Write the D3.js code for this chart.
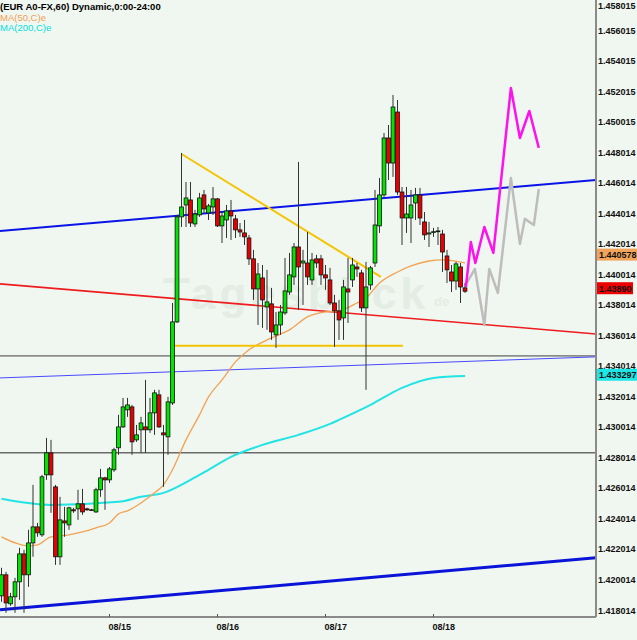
<!DOCTYPE html>
<html>
<head>
<meta charset="utf-8">
<script src="https://cdn.jsdelivr.net/npm/d3@7"></script>
<style>
  body { margin: 0; background: #f0f6f0; }
  svg { display: block; font-family: 'Liberation Sans', Arial, sans-serif; }
  .axis-label { font-size: 9px; font-weight: bold; fill: #111; }
</style>
</head>
<body>
<svg id="chart" width="637" height="640"></svg>
<script>
// hourly EUR/USD bars, index 0 = first bar at the left edge
const opens = [
  1.41894, 1.42032, 1.41842, 1.41888, 1.41986, 1.42169, 1.42032, 1.42241, 1.42346, 1.42294,
  1.42687, 1.42831, 1.42608, 1.42150, 1.42385, 1.42359, 1.42458, 1.42464, 1.42497, 1.42464,
  1.42458, 1.42444, 1.42589, 1.42667, 1.42654, 1.42720, 1.42864, 1.43001, 1.43113, 1.43132,
  1.42916, 1.42982, 1.43001, 1.42982, 1.43093, 1.43211, 1.42962, 1.42936, 1.43158, 1.43689,
  1.44377, 1.44455, 1.44488, 1.44331, 1.44390, 1.44521, 1.44403, 1.44442, 1.44495, 1.44318,
  1.44357, 1.44416, 1.44364, 1.44292, 1.44272, 1.44239, 1.44102, 1.43905, 1.43977, 1.43787,
  1.43807, 1.43604, 1.43669, 1.43748, 1.43885, 1.43984, 1.44180, 1.44075, 1.44075, 1.43964,
  1.44102, 1.44102, 1.43997, 1.43964, 1.43813, 1.43761, 1.43715, 1.43905, 1.43964, 1.44049,
  1.44010, 1.43781, 1.43931, 1.44075, 1.44318, 1.44521, 1.44894, 1.44730, 1.45064, 1.44540,
  1.44370, 1.44370, 1.44468, 1.44521, 1.44344, 1.44265, 1.44278, 1.44285, 1.44265, 1.44121,
  1.44016, 1.43957, 1.44049, 1.43912
];
const highs = [
  1.42078, 1.42051, 1.41914, 1.42012, 1.42209, 1.42196, 1.42327, 1.42621, 1.42372, 1.42687,
  1.42929, 1.42916, 1.42621, 1.42543, 1.42477, 1.42477, 1.42471, 1.42589, 1.42595, 1.42471,
  1.42464, 1.42602, 1.42726, 1.42674, 1.42739, 1.42864, 1.43080, 1.43191, 1.43191, 1.43145,
  1.43014, 1.43067, 1.43309, 1.43191, 1.43244, 1.43244, 1.43014, 1.43198, 1.43813, 1.44390,
  1.44796, 1.44606, 1.44606, 1.44423, 1.44534, 1.44554, 1.44462, 1.44573, 1.44501, 1.44409,
  1.44455, 1.44488, 1.44390, 1.44337, 1.44357, 1.44259, 1.44161, 1.44075, 1.44062, 1.44030,
  1.43912, 1.43754, 1.43800, 1.44108, 1.44141, 1.44206, 1.44737, 1.44161, 1.44278, 1.44141,
  1.44128, 1.44128, 1.44062, 1.44043, 1.43866, 1.43833, 1.43964, 1.44108, 1.44108, 1.44075,
  1.44030, 1.44082, 1.44056, 1.44554, 1.44632, 1.44927, 1.44979, 1.45176, 1.45143, 1.44573,
  1.44573, 1.44554, 1.44567, 1.44567, 1.44409, 1.44344, 1.44305, 1.44311, 1.44292, 1.44161,
  1.44062, 1.44082, 1.44075, 1.43944
];
const lows = [
  1.41855, 1.41783, 1.41829, 1.41783, 1.41868, 1.41783, 1.41953, 1.42150, 1.42281, 1.42281,
  1.42654, 1.42438, 1.42097, 1.42097, 1.42281, 1.42327, 1.42438, 1.42392, 1.42425, 1.42451,
  1.42451, 1.42438, 1.42543, 1.42458, 1.42634, 1.42706, 1.42818, 1.42995, 1.43067, 1.42818,
  1.42903, 1.42831, 1.42831, 1.42962, 1.42949, 1.42995, 1.42608, 1.42818, 1.43145, 1.43682,
  1.44311, 1.44311, 1.44311, 1.44311, 1.44377, 1.44403, 1.44357, 1.44390, 1.44311, 1.44206,
  1.44239, 1.44226, 1.44239, 1.44246, 1.44193, 1.44062, 1.43833, 1.43669, 1.43650, 1.43637,
  1.43571, 1.43519, 1.43604, 1.43735, 1.43866, 1.43931, 1.43768, 1.43800, 1.43931, 1.43931,
  1.44043, 1.43931, 1.43899, 1.43800, 1.43525, 1.43571, 1.43571, 1.43682, 1.43918, 1.43984,
  1.43754, 1.43244, 1.43899, 1.44049, 1.44272, 1.44508, 1.44619, 1.44639, 1.44521, 1.44193,
  1.44272, 1.44206, 1.44357, 1.44324, 1.44226, 1.44180, 1.44246, 1.44193, 1.44016, 1.43944,
  1.43885, 1.43899, 1.43813, 1.43879
];
const closes = [
  1.42032, 1.41848, 1.41888, 1.41986, 1.42169, 1.42032, 1.42241, 1.42346, 1.42307, 1.42674,
  1.42831, 1.42687, 1.42150, 1.42392, 1.42372, 1.42471, 1.42451, 1.42497, 1.42444, 1.42458,
  1.42455, 1.42589, 1.42667, 1.42654, 1.42726, 1.42851, 1.43001, 1.43132, 1.43145, 1.42903,
  1.42949, 1.43027, 1.42982, 1.43093, 1.43224, 1.43001, 1.42949, 1.43165, 1.43689, 1.44377,
  1.44442, 1.44501, 1.44337, 1.44396, 1.44501, 1.44429, 1.44449, 1.44495, 1.44318, 1.44383,
  1.44416, 1.44383, 1.44292, 1.44278, 1.44246, 1.44102, 1.43905, 1.44003, 1.43833, 1.43820,
  1.43623, 1.43669, 1.43754, 1.43892, 1.43997, 1.44180, 1.44049, 1.44088, 1.43984, 1.44095,
  1.44075, 1.43997, 1.43977, 1.43813, 1.43761, 1.43702, 1.43918, 1.43885, 1.44062, 1.44036,
  1.43781, 1.43918, 1.44043, 1.44324, 1.44521, 1.44894, 1.44730, 1.45097, 1.44540, 1.44370,
  1.44396, 1.44455, 1.44521, 1.44370, 1.44259, 1.44272, 1.44280, 1.44284, 1.44147, 1.44030,
  1.43957, 1.44069, 1.43918, 1.43890
];

const ma50Idx  = [0, 6, 8, 11, 15, 18, 21, 24, 26, 28, 31, 34, 36, 38, 41, 44, 46, 49, 52, 55, 60, 64, 68, 72, 75, 79, 81, 84, 88, 91, 95, 98, 103];
const ma50Vals = [1.42281, 1.42222, 1.42228, 1.42281, 1.42294, 1.42313, 1.42340, 1.42372, 1.42431, 1.42451,
  1.42503, 1.42569, 1.42621, 1.42720, 1.42916, 1.43080, 1.43198, 1.43309, 1.43427, 1.43506,
  1.43584, 1.43637, 1.43722, 1.43754, 1.43761, 1.43813, 1.43846, 1.43944, 1.44016, 1.44056,
  1.44088, 1.44095, 1.44075];
const ma200Idx  = [0, 11, 26, 31, 36, 42, 46, 51, 58, 66, 73, 75, 82, 89, 96, 103];
const ma200Vals = [1.42530, 1.42490, 1.42510, 1.42543, 1.42569, 1.42654, 1.42720, 1.42805, 1.42883, 1.42949,
  1.43021, 1.43047, 1.43145, 1.43257, 1.43322, 1.43335];

// drawn lines: [bar index, price] pairs
const trendBlueUpper = [[-0.33, 1.44285], [132.1, 1.44619]];
const trendRed       = [[-0.33, 1.43938], [132.1, 1.43610]];
const trendBlueThin  = [[-0.33, 1.43322], [132.1, 1.43460]];
const trendBlueLower = [[-0.33, 1.41803], [132.1, 1.42143]];
const triangleTop    = [[40, 1.44789], [84.3, 1.43984]];
const triangleBase   = [[38.3, 1.43532], [89.2, 1.43532]];
const levelDark = 1.43466;
const levelGray = 1.42831;

// forecast paths
const magentaIdx  = [103.2, 104.3, 105.3, 107.3, 109.3, 113.2, 115.2, 117.3, 119.4];
const magentaVals = [1.43918, 1.44213, 1.44075, 1.44311, 1.44141, 1.45222, 1.44894, 1.45071, 1.44829];
const grayIdx  = [103.4, 105.2, 107.3, 108.4, 110.3, 113.2, 115.2, 116.3, 118.3, 119.4];
const grayVals = [1.43944, 1.44036, 1.43669, 1.44036, 1.43879, 1.44632, 1.44200, 1.44364, 1.44324, 1.44560];

// axes
const priceTicks = ['1.458015', '1.456015', '1.454015', '1.452015', '1.450015', '1.448014', '1.446014',
  '1.444014', '1.442014', '1.440014', '1.438014', '1.436014', '1.434014', '1.432014', '1.430014',
  '1.428014', '1.426014', '1.424014', '1.422014', '1.420014', '1.418014'];
const dateTickIdx = [24, 48, 72, 96];
const dateTickLabels = ['08/15', '08/16', '08/17', '08/18'];

const lastPrice = 1.43890;
const ma50Last = 1.440578;
const ma200Last = 1.433297;

const svg = d3.select('#chart');
const plotW = 596, plotH = 617;

const x = d3.scaleLinear().domain([0, 96]).range([1.5, 433.5]);
const y = d3.scaleLinear().domain([1.418014, 1.456015]).range([610, 30]);

svg.append('rect').attr('width', 637).attr('height', 640).attr('fill', '#f0f6f0');

svg.append('clipPath').attr('id', 'plot-clip')
  .append('rect').attr('width', plotW).attr('height', plotH);

const g = svg.append('g').attr('clip-path', 'url(#plot-clip)');

// watermark
g.append('text')
  .attr('x', 163).attr('y', 309)
  .attr('textLength', 262)
  .style('font-size', '44px').style('font-weight', 'bold')
  .attr('fill', '#e3ede3')
  .text('Tagesblick');
g.append('text')
  .attr('x', 434).attr('y', 306)
  .style('font-size', '13px').style('font-weight', 'bold')
  .attr('fill', '#e3ede3')
  .text('de');

const seg = d3.line().x(d => x(d[0])).y(d => y(d[1]));

// horizontal levels
[[levelDark, '#404040', 1], [levelGray, '#6a6a6a', 1.5]].forEach(([v, c, w]) => {
  g.append('line')
    .attr('x1', 0).attr('x2', plotW)
    .attr('y1', y(v)).attr('y2', y(v))
    .attr('stroke', c).attr('stroke-width', w);
});

// trend channel lines
const trends = [
  {pts: trendBlueThin, color: '#4a4aff', w: 1},
  {pts: trendRed, color: '#ee1c1c', w: 1.6},
  {pts: trendBlueUpper, color: '#0a14e6', w: 2},
  {pts: trendBlueLower, color: '#0a14d8', w: 3}
];
trends.forEach(t => {
  g.append('path').attr('d', seg(t.pts))
    .attr('fill', 'none').attr('stroke', t.color).attr('stroke-width', t.w);
});

// moving averages
const maLine = d3.line().curve(d3.curveMonotoneX).x(d => x(d[0])).y(d => y(d[1]));
g.append('path')
  .attr('d', maLine(d3.zip(ma200Idx, ma200Vals)))
  .attr('fill', 'none').attr('stroke', '#22e4e4').attr('stroke-width', 2);
g.append('path')
  .attr('d', maLine(d3.zip(ma50Idx, ma50Vals)))
  .attr('fill', 'none').attr('stroke', '#f3a252').attr('stroke-width', 1.3);

// triangle
[triangleTop, triangleBase].forEach(pts => {
  g.append('path').attr('d', seg(pts))
    .attr('fill', 'none').attr('stroke', '#f5c400').attr('stroke-width', 2);
});

// candles
const bars = opens.map((o, i) => ({i: i, o: o, h: highs[i], l: lows[i], c: closes[i]}));

const candle = g.selectAll('.candle')
  .data(bars)
  .enter()
  .append('g')
  .attr('class', 'candle');

candle.append('line')
  .attr('x1', d => x(d.i)).attr('x2', d => x(d.i))
  .attr('y1', d => y(d.h)).attr('y2', d => y(d.l))
  .attr('stroke', '#333').attr('stroke-width', 1);

candle.append('rect')
  .attr('x', d => x(d.i) - 1.9)
  .attr('width', 3.8)
  .attr('y', d => y(Math.max(d.o, d.c)))
  .attr('height', d => Math.max(0.8, Math.abs(y(d.o) - y(d.c))))
  .attr('fill', d => {
    if(d.c > d.o) return '#00e400';
    if(d.c < d.o) return '#e80000';
    return '#000';
  })
  .attr('stroke', '#111').attr('stroke-width', 0.8);

// forecast
g.append('path')
  .attr('d', seg(d3.zip(grayIdx, grayVals)))
  .attr('fill', 'none').attr('stroke', '#bdbdbd').attr('stroke-width', 2.5)
  .attr('stroke-linejoin', 'round');
g.append('path')
  .attr('d', seg(d3.zip(magentaIdx, magentaVals)))
  .attr('fill', 'none').attr('stroke', '#ff10ee').attr('stroke-width', 2.5)
  .attr('stroke-linejoin', 'round');

// frame
svg.append('line').attr('x1', plotW).attr('x2', plotW).attr('y1', 0).attr('y2', plotH)
  .attr('stroke', '#8a8a8a').attr('stroke-width', 2);
svg.append('line').attr('x1', 0).attr('x2', plotW).attr('y1', plotH).attr('y2', plotH)
  .attr('stroke', '#8a8a8a').attr('stroke-width', 2);

// price labels
svg.selectAll('.price-label')
  .data(priceTicks)
  .enter()
  .append('text')
  .attr('class', 'axis-label price-label')
  .attr('x', 598)
  .attr('y', d => Math.max(5, y(+d)) + 3.5)
  .text(d => d);

// date labels
svg.selectAll('.date-tick')
  .data(dateTickIdx)
  .enter()
  .append('line')
  .attr('x1', d => x(d)).attr('x2', d => x(d))
  .attr('y1', plotH - 3).attr('y2', plotH)
  .attr('stroke', '#555');
svg.selectAll('.date-label')
  .data(dateTickIdx)
  .enter()
  .append('text')
  .attr('class', 'axis-label date-label')
  .attr('x', d => x(d) - 1)
  .attr('y', 630)
  .text((d, i) => dateTickLabels[i]);

// value boxes on the price axis
const boxes = [
  {v: ma50Last, text: '1.440578', fill: '#f2a55a', dy: -11},
  {v: lastPrice, text: '1.43890', fill: '#ee0000', dy: -3},
  {v: ma200Last, text: '1.433297', fill: '#1ee6e6', dy: -2}
];
boxes.forEach(b => {
  const cy = y(b.v) + b.dy;
  svg.append('rect')
    .attr('x', 597).attr('y', cy - 6)
    .attr('width', b.text.length > 7 ? 40 : 36).attr('height', 12)
    .attr('fill', b.fill);
  svg.append('text')
    .attr('class', 'axis-label')
    .attr('x', 599).attr('y', cy + 3.5)
    .attr('fill', '#fff')
    .text(b.text);
});

// legend
const legend = [
  {text: '(EUR A0-FX,60) Dynamic,0:00-24:00', color: '#000', weight: 'bold'},
  {text: 'MA(50,C)e', color: '#f0a050', weight: 'normal'},
  {text: 'MA(200,C)e', color: '#00dede', weight: 'normal'}
];
svg.selectAll('.legend')
  .data(legend)
  .enter()
  .append('text')
  .attr('x', 0)
  .attr('y', (d, i) => 10 + i * 10.7)
  .style('font-size', '9.5px')
  .style('font-weight', d => d.weight)
  .attr('fill', d => d.color)
  .text(d => d.text);
</script>
</body>
</html>
